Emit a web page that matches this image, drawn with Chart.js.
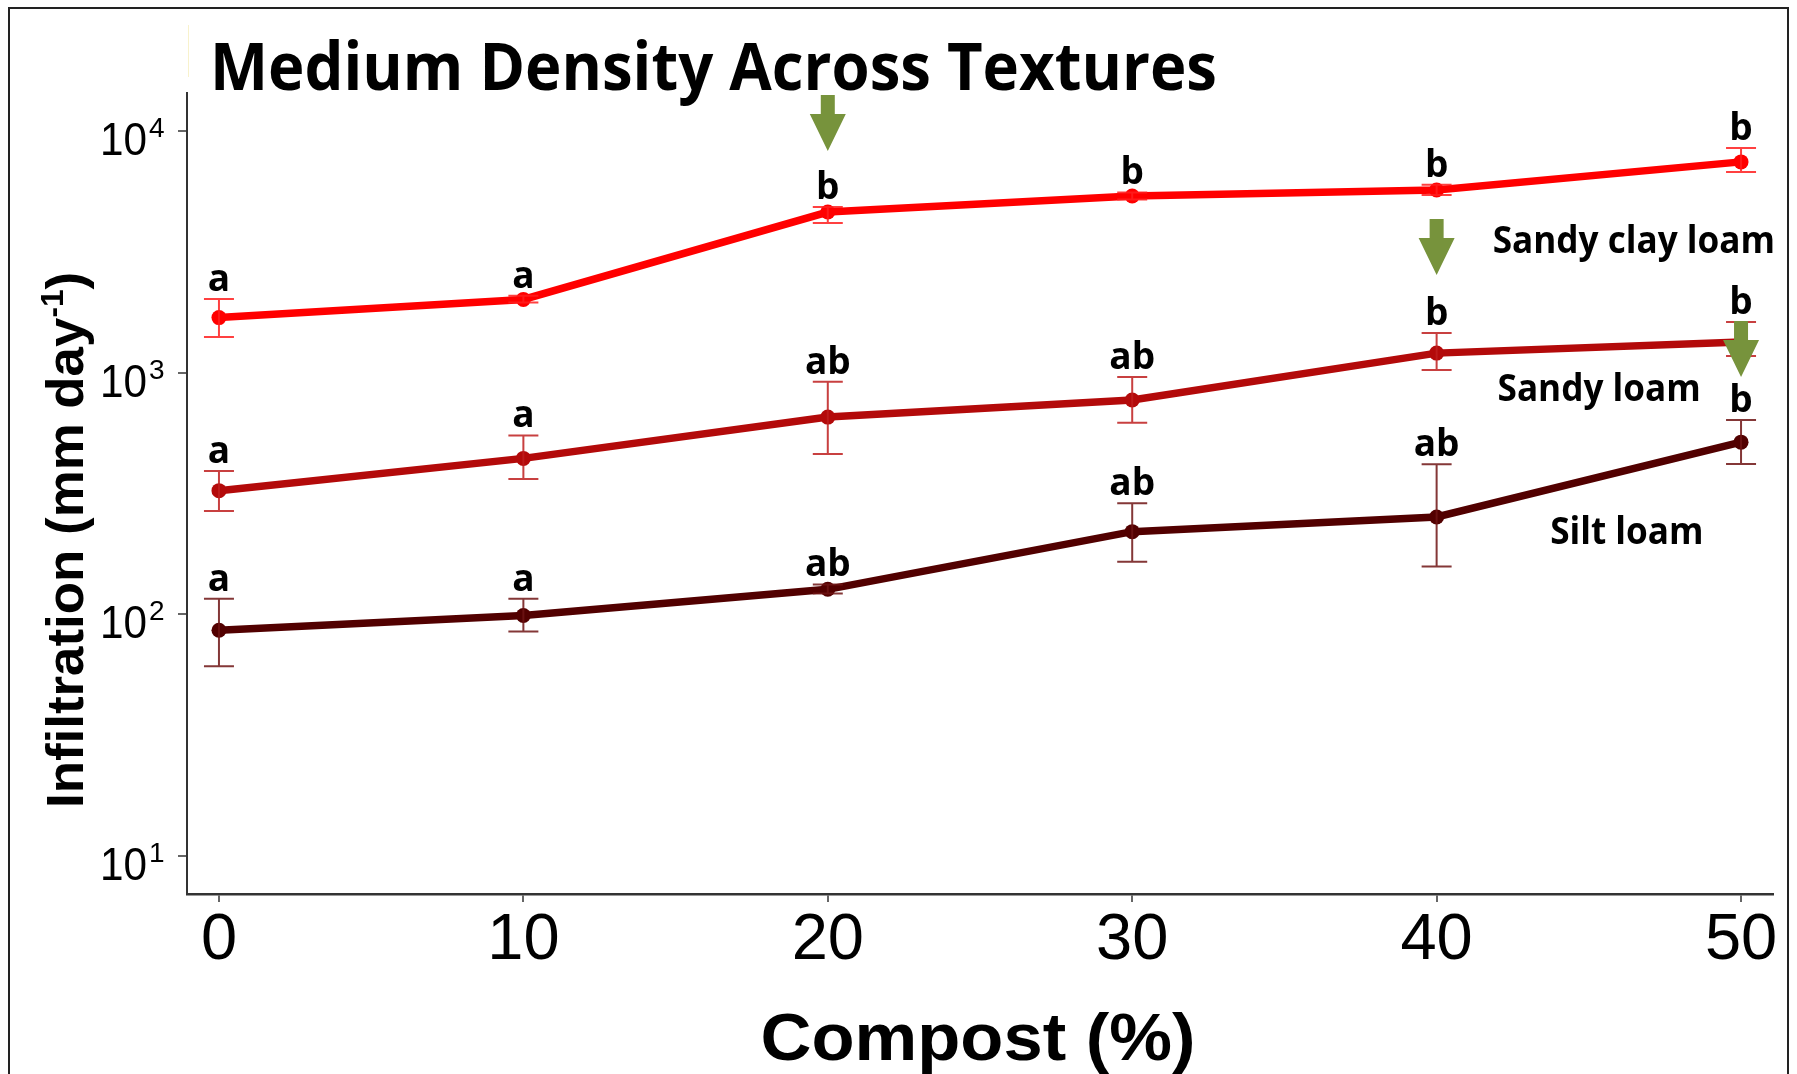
<!DOCTYPE html>
<html>
<head>
<meta charset="utf-8">
<title>Medium Density Across Textures</title>
<script src="https://cdn.jsdelivr.net/npm/chart.js@4.4.1/dist/chart.umd.min.js"></script>
<style>
  html, body { margin: 0; padding: 0; background: #fff; }
  #wrap { position: relative; width: 1797px; height: 1074px; }
</style>
</head>
<body>
<div id="wrap"><canvas id="chart"></canvas></div>
<script>
// Compost levels (%) and axis ticks
const compost = [0, 10, 20, 30, 40, 50];
const xTicks = [0, 10, 20, 30, 40, 50];
const yTicks = [10, 100, 1000, 10000];

// Infiltration means (mm day-1) with lower / upper error bar ends
const sandyClayLoam = [1690, 2010, 4620, 5380, 5700, 7450];
const sandyClayLoamLow = [1405, 1950, 4160, 5210, 5430, 6760];
const sandyClayLoamHigh = [2016, 2080, 4850, 5570, 5985, 8510];
const sandyLoam = [325, 442, 655, 771, 1205, 1340];
const sandyLoamLow = [268, 363, 461, 620, 1026, 1172];
const sandyLoamHigh = [392, 550, 918, 960, 1458, 1622];
const siltLoam = [86, 99, 127, 220, 253, 516];
const siltLoamLow = [61, 85, 122, 165, 158, 419];
const siltLoamHigh = [116, 116, 133, 288, 418, 637];

// Significance letters
const sandyClayLoamLetters = ['a', 'a', 'b', 'b', 'b', 'b'];
const sandyLoamLetters = ['a', 'a', 'ab', 'ab', 'b', 'b'];
const siltLoamLetters = ['a', 'a', 'ab', 'ab', 'ab', 'b'];

// Texture names and where they sit (compost %, infiltration at baseline)
const textureNames = ['Sandy clay loam', 'Sandy loam', 'Silt loam'];
const nameX = [46.48, 45.34, 46.25];
const nameY = [3126, 764, 196];

// Green arrows: compost % and the infiltration value at the arrow tip
const arrowX = [20, 40, 50];
const arrowTip = [8265, 2535, 960];

const colors = ['#ff0000', '#b30a0a', '#520000'];
const errColors = ['rgba(255,30,30,0.85)', 'rgba(190,30,30,0.85)', 'rgba(110,20,20,0.85)'];

const series = [
  { vals: sandyClayLoam, low: sandyClayLoamLow, high: sandyClayLoamHigh, letters: sandyClayLoamLetters },
  { vals: sandyLoam, low: sandyLoamLow, high: sandyLoamHigh, letters: sandyLoamLetters },
  { vals: siltLoam, low: siltLoamLow, high: siltLoamHigh, letters: siltLoamLetters },
];

// draw text squeezed/stretched to a given width
function fitText(ctx, text, x, y, font, width, align) {
  ctx.save();
  ctx.font = font;
  const w = ctx.measureText(text).width;
  ctx.translate(x, y);
  ctx.scale(width / w, 1);
  ctx.textAlign = align || 'left';
  ctx.textBaseline = 'alphabetic';
  ctx.fillText(text, 0, 0);
  ctx.restore();
}

const decorations = {
  id: 'decorations',
  beforeDraw(c) {
    const ctx = c.ctx;
    ctx.save();
    ctx.fillStyle = '#fff';
    ctx.fillRect(0, 0, c.width, c.height);
    ctx.restore();
  },
  afterDatasetsDraw(c) {
    const ctx = c.ctx;
    const x = c.scales.x, y = c.scales.y;
    ctx.save();
    // error bars
    series.forEach((s, k) => {
      ctx.strokeStyle = errColors[k];
      ctx.lineWidth = 2;
      s.vals.forEach((v, i) => {
        const px = x.getPixelForValue(compost[i]);
        const top = y.getPixelForValue(s.high[i]);
        const bot = y.getPixelForValue(s.low[i]);
        ctx.beginPath();
        ctx.moveTo(px, top); ctx.lineTo(px, bot);
        ctx.moveTo(px - 15, top); ctx.lineTo(px + 15, top);
        ctx.moveTo(px - 15, bot); ctx.lineTo(px + 15, bot);
        ctx.stroke();
      });
    });
    // significance letters
    ctx.fillStyle = '#000';
    ctx.font = 'bold 37px "Open Sans"';
    ctx.textAlign = 'center';
    ctx.textBaseline = 'alphabetic';
    series.forEach((s) => {
      s.vals.forEach((v, i) => {
        const px = x.getPixelForValue(compost[i]);
        const top = y.getPixelForValue(s.high[i]);
        ctx.fillText(s.letters[i], px, top - 8);
      });
    });
    // texture names
    textureNames.forEach((t, i) => {
      ctx.save();
      ctx.font = 'bold 37px "Open Sans"';
      ctx.translate(x.getPixelForValue(nameX[i]), y.getPixelForValue(nameY[i]));
      ctx.scale(0.95, 1);
      ctx.textAlign = 'center';
      ctx.fillText(t, 0, 0);
      ctx.restore();
    });
    // green arrows
    ctx.fillStyle = '#77933c';
    arrowX.forEach((ax, i) => {
      const px = x.getPixelForValue(ax);
      const tip = y.getPixelForValue(arrowTip[i]);
      ctx.beginPath();
      ctx.moveTo(px - 7, tip - 56);
      ctx.lineTo(px + 7, tip - 56);
      ctx.lineTo(px + 7, tip - 37);
      ctx.lineTo(px + 18, tip - 37);
      ctx.lineTo(px, tip);
      ctx.lineTo(px - 18, tip - 37);
      ctx.lineTo(px - 7, tip - 37);
      ctx.closePath();
      ctx.fill();
    });
    ctx.restore();
  },
  afterDraw(c) {
    const ctx = c.ctx;
    const y = c.scales.y;
    ctx.save();
    ctx.fillStyle = '#000';
    // y tick labels as powers of ten
    yTicks.forEach((v) => {
      const py = y.getPixelForValue(v);
      fitText(ctx, '10', 147, py + 24, '47px "Liberation Sans"', 47, 'right');
      ctx.font = '28px "Liberation Sans"';
      ctx.textAlign = 'left';
      ctx.fillText(String(Math.round(Math.log10(v))), 149, py + 6);
    });
    // title
    fitText(ctx, 'Medium Density Across Textures', 210, 90, 'bold 67px "Open Sans"', 1007, 'left');
    // x axis title
    fitText(ctx, 'Compost (%)', 978, 1060, 'bold 67px "Liberation Sans"', 435, 'center');
    // y axis title with superscript
    ctx.save();
    ctx.translate(83, 808);
    ctx.rotate(-Math.PI / 2);
    const f1 = 'bold 52px "Liberation Sans"', f2 = 'bold 31px "Liberation Sans"';
    ctx.font = f1;
    const w1 = ctx.measureText('Infiltration (mm day').width;
    const w3 = ctx.measureText(')').width;
    ctx.font = f2;
    const w2 = ctx.measureText('-1').width;
    ctx.scale(536 / (w1 + w2 + w3), 1);
    ctx.textAlign = 'left';
    ctx.font = f1; ctx.fillText('Infiltration (mm day', 0, 0);
    ctx.font = f2; ctx.fillText('-1', w1, -20);
    ctx.font = f1; ctx.fillText(')', w1 + w2, 0);
    ctx.restore();
    // outer frame
    ctx.strokeStyle = '#222';
    ctx.lineWidth = 2;
    ctx.strokeRect(9, 8, 1779, 1100);
    // faint stray line next to the title
    ctx.strokeStyle = '#f8f2cc';
    ctx.lineWidth = 1;
    ctx.beginPath();
    ctx.moveTo(188.5, 25); ctx.lineTo(188.5, 77);
    ctx.stroke();
    ctx.restore();
  },
};

const chart = new Chart(document.getElementById('chart'), {
  type: 'line',
  data: {
    datasets: series.map((s, k) => ({
      label: textureNames[k],
      data: compost.map((cp, i) => ({ x: cp, y: s.vals[i] })),
      borderColor: colors[k],
      backgroundColor: colors[k],
      pointBackgroundColor: colors[k],
      borderWidth: 7.5,
      pointRadius: 7.5,
      pointBorderWidth: 0,
      tension: 0,
    })),
  },
  options: {
    responsive: true,
    maintainAspectRatio: false,
    animation: false,
    layout: {
      padding: { top: 93, right: 24, left: 0, bottom: 0 },
    },
    scales: {
      x: {
        type: 'linear',
        min: -1.05,
        max: 51.05,
        afterBuildTicks: (s) => { s.ticks = xTicks.map((v) => ({ value: v })); },
        afterFit: (s) => { s.height = 180; },
        border: { display: true, color: '#333', width: 2.5 },
        grid: { display: true, drawOnChartArea: false, drawTicks: true, tickLength: 8, color: '#666', lineWidth: 2 },
        ticks: {
          autoSkip: false,
          maxRotation: 0,
          padding: 0,
          color: '#000',
          font: { family: 'Liberation Sans', size: 65 },
          callback: (v) => String(v),
        },
      },
      y: {
        type: 'logarithmic',
        min: 6.97,
        max: 14360,
        afterBuildTicks: (s) => { s.ticks = yTicks.map((v) => ({ value: v })); },
        afterFit: (s) => { s.width = 187; },
        border: { display: true, color: '#333', width: 2 },
        grid: { display: true, drawOnChartArea: false, drawTicks: true, tickLength: 9, color: '#666', lineWidth: 2 },
        ticks: { display: false },
      },
    },
    plugins: {
      legend: { display: false },
      tooltip: { enabled: false },
    },
  },
  plugins: [decorations],
});
</script>
</body>
</html>
